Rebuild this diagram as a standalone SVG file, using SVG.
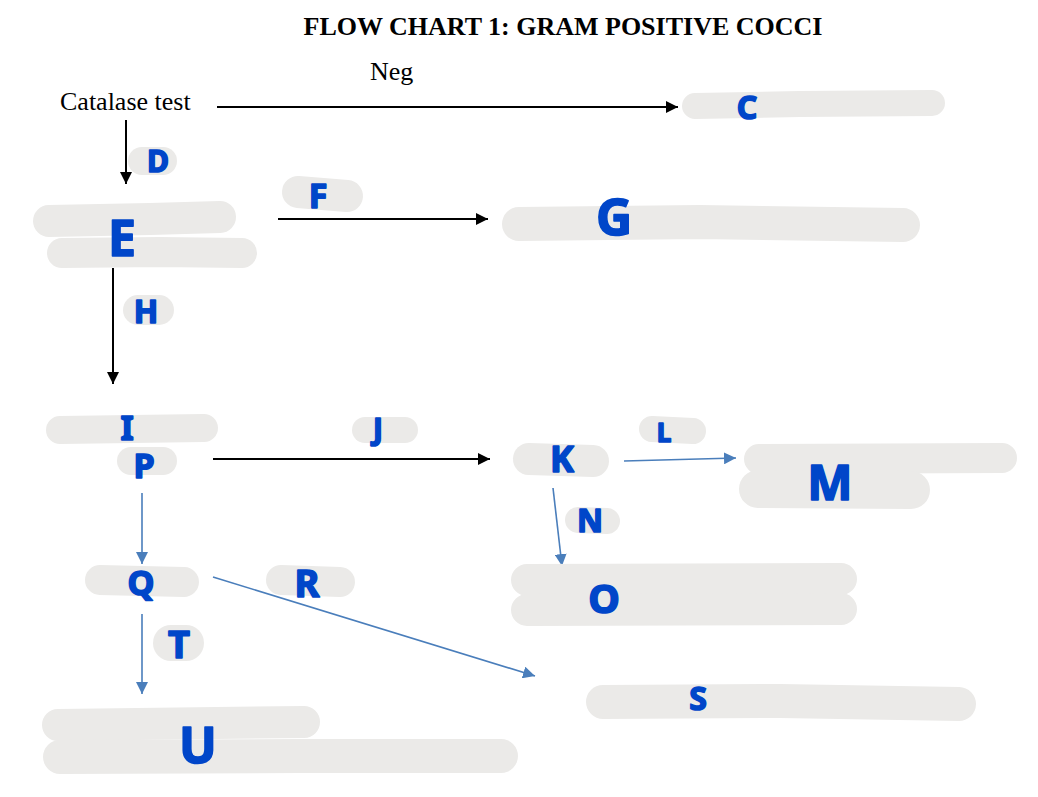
<svg xmlns="http://www.w3.org/2000/svg" width="1038" height="797" viewBox="0 0 1038 797">
<style>
.blob{fill:none;stroke:#ebeae8;stroke-linecap:round;stroke-linejoin:round}
.lt{font-family:"Noto Sans","DejaVu Sans",sans-serif;font-weight:bold;fill:#0046c9;stroke:#0046c9;stroke-width:1.6;stroke-linejoin:round;text-anchor:middle}
.tx{font-family:"Liberation Serif","Times New Roman",serif;fill:#000}
.bk{stroke:#000;stroke-width:2;fill:none}
.bl{stroke:#4a7ebb;stroke-width:1.6;fill:none}
</style>
<defs>
<marker id="ab" markerUnits="userSpaceOnUse" markerWidth="14" markerHeight="12" refX="12" refY="6" orient="auto"><path d="M0,0 L12,6 L0,12 Z" fill="#000"/></marker>
<marker id="au" markerUnits="userSpaceOnUse" markerWidth="14" markerHeight="12" refX="12" refY="6" orient="auto"><path d="M0,0 L12,6 L0,12 Z" fill="#4a7ebb"/></marker>
</defs>
<rect width="1038" height="797" fill="#fff"/>
<text class="tx" x="563" y="35" font-size="26" font-weight="bold" text-anchor="middle">FLOW CHART 1: GRAM POSITIVE COCCI</text>

<g id="connectors">
<line class="bk" x1="217" y1="107" x2="678" y2="107" marker-end="url(#ab)"/>
<line class="bk" x1="126" y1="120" x2="126" y2="184" marker-end="url(#ab)"/>
<line class="bk" x1="278" y1="219" x2="488" y2="219" marker-end="url(#ab)"/>
<line class="bk" x1="113" y1="268" x2="113" y2="384" marker-end="url(#ab)"/>
<line class="bk" x1="213" y1="459" x2="490" y2="459" marker-end="url(#ab)"/>
<line class="bl" x1="624" y1="461" x2="736" y2="458" marker-end="url(#au)"/>
<line class="bl" x1="553" y1="488" x2="562" y2="566" marker-end="url(#au)"/>
<line class="bl" x1="142" y1="493" x2="142" y2="564" marker-end="url(#au)"/>
<line class="bl" x1="213" y1="577" x2="535" y2="676" marker-end="url(#au)"/>
<line class="bl" x1="142" y1="614" x2="142" y2="694" marker-end="url(#au)"/>
</g>

<g id="catalase"><text class="tx" x="60" y="110" font-size="26">Catalase test</text></g>
<g id="neg"><text class="tx" x="370" y="80" font-size="26">Neg</text></g>

<g id="C"><path class="blob" stroke-width="26" d="M695,106 L800,104 L932,103"/><text class="lt" x="747" y="119" font-size="32">C</text></g>
<g id="D"><path class="blob" stroke-width="28" d="M142,161 L163,161"/><text class="lt" x="158" y="172" font-size="30">D</text></g>
<g id="E"><path class="blob" stroke-width="32" d="M49,221 L150,219 L220,217"/><path class="blob" stroke-width="30" d="M62,253 L160,252 L242,253"/><text class="lt" x="122" y="256" font-size="50">E</text></g>
<g id="F"><path class="blob" stroke-width="32" d="M298,192 L347,196"/><text class="lt" x="318" y="208" font-size="34">F</text></g>
<g id="G"><path class="blob" stroke-width="34" d="M519,224 L700,222 L903,225"/><text class="lt" x="614" y="235" font-size="50">G</text></g>
<g id="H"><path class="blob" stroke-width="30" d="M138,310 L159,310"/><text class="lt" x="146" y="323" font-size="32">H</text></g>
<g id="I"><path class="blob" stroke-width="28" d="M60,430 L204,428"/><text class="lt" x="127" y="440" font-size="34">I</text></g>
<g id="P"><path class="blob" stroke-width="28" d="M131,461 L163,461"/><text class="lt" x="144" y="478" font-size="34">P</text></g>
<g id="J"><path class="blob" stroke-width="26" d="M365,430 L405,430"/><text class="lt" x="378" y="440" font-size="30">J</text></g>
<g id="K"><path class="blob" stroke-width="32" d="M529,459 L593,461"/><text class="lt" x="562" y="472" font-size="36">K</text></g>
<g id="L"><path class="blob" stroke-width="26" d="M652,429 L693,431"/><text class="lt" x="664" y="442" font-size="26">L</text></g>
<g id="M"><path class="blob" stroke-width="30" d="M759,459 L1002,458"/><path class="blob" stroke-width="38" d="M758,489 L911,490"/><text class="lt" x="830" y="500" font-size="48">M</text></g>
<g id="N"><path class="blob" stroke-width="26" d="M578,520 L607,521"/><text class="lt" x="590" y="532" font-size="32">N</text></g>
<g id="O"><path class="blob" stroke-width="32" d="M527,580 L841,579"/><path class="blob" stroke-width="32" d="M527,610 L841,609"/><text class="lt" x="604" y="613" font-size="40">O</text></g>
<g id="Q"><path class="blob" stroke-width="30" d="M100,580 L184,582"/><text class="lt" x="141" y="595" font-size="34">Q</text></g>
<g id="R"><path class="blob" stroke-width="30" d="M281,580 L340,582"/><text class="lt" x="307" y="597" font-size="38">R</text></g>
<g id="T"><path class="blob" stroke-width="36" d="M171,643 L186,643"/><text class="lt" x="179" y="658" font-size="38">T</text></g>
<g id="S"><path class="blob" stroke-width="34" d="M603,702 L780,701 L959,704"/><text class="lt" x="698" y="710" font-size="32">S</text></g>
<g id="U"><path class="blob" stroke-width="32" d="M58,725 L304,722"/><path class="blob" stroke-width="34" d="M60,757 L300,756 L501,756"/><text class="lt" x="198" y="763" font-size="50">U</text></g>
</svg>
